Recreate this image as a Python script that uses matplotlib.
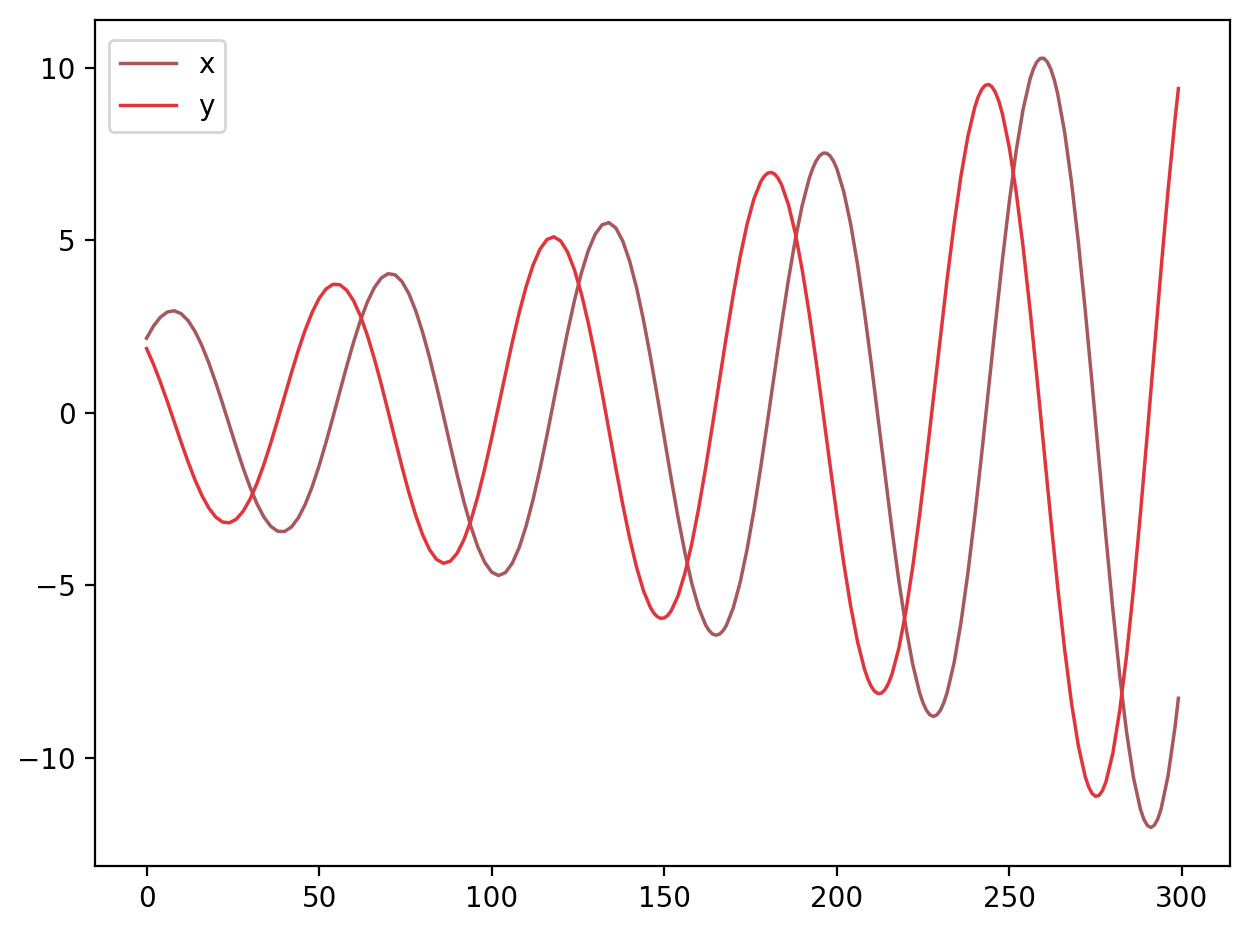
import matplotlib
matplotlib.use("Agg")
import matplotlib.pyplot as plt

# sample positions (every 2nd step + last point)
t = list(range(0, 300, 2)) + [299]

x_vals = [
    2.159, 2.511, 2.768, 2.918, 2.955, 2.873, 2.675, 2.365, 1.954, 1.456,
    0.889, 0.276, -0.361, -0.996, -1.604, -2.158, -2.639, -3.022, -3.292, -3.434,
    -3.441, -3.310, -3.045, -2.651, -2.142, -1.537, -0.859, -0.132, 0.615, 1.351,
    2.048, 2.678, 3.212, 3.626, 3.904, 4.030, 3.998, 3.804, 3.453, 2.956,
    2.331, 1.600, 0.789, -0.069, -0.942, -1.794, -2.592, -3.301, -3.892, -4.337,
    -4.617, -4.719, -4.632, -4.357, -3.901, -3.279, -2.515, -1.633, -0.668, 0.344,
    1.361, 2.345, 3.254, 4.050, 4.699, 5.172, 5.448, 5.510, 5.352, 4.975,
    4.390, 3.618, 2.685, 1.625, 0.479, -0.709, -1.893, -3.025, -4.057, -4.947,
    -5.655, -6.152, -6.411, -6.418, -6.165, -5.659, -4.918, -3.965, -2.832, -1.562,
    -0.205, 1.188, 2.561, 3.858, 5.026, 6.014, 6.783, 7.295, 7.522, 7.451,
    7.079, 6.417, 5.484, 4.310, 2.941, 1.425, -0.178, -1.806, -3.393, -4.876,
    -6.193, -7.287, -8.112, -8.625, -8.802, -8.628, -8.106, -7.247, -6.080, -4.644,
    -2.993, -1.189, 0.698, 2.595, 4.427, 6.115, 7.595, 8.797, 9.670, 10.170,
    10.272, 9.966, 9.252, 8.150, 6.700, 4.951, 2.969, 0.828, -1.390, -3.596,
    -5.700, -7.620, -9.271, -10.583, -11.494, -11.961, -11.959, -11.477, -10.522, -9.125,
    -8.274,
]

y_vals = [
    1.860, 1.410, 0.893, 0.330, -0.258, -0.847, -1.413, -1.935, -2.389, -2.756,
    -3.019, -3.167, -3.191, -3.085, -2.854, -2.504, -2.047, -1.498, -0.878, -0.210,
    0.479, 1.164, 1.815, 2.406, 2.912, 3.311, 3.586, 3.722, 3.711, 3.551,
    3.243, 2.801, 2.237, 1.571, 0.829, 0.039, -0.768, -1.561, -2.307, -2.975,
    -3.536, -3.968, -4.248, -4.363, -4.305, -4.072, -3.673, -3.117, -2.424, -1.620,
    -0.735, 0.196, 1.139, 2.055, 2.906, 3.658, 4.279, 4.739, 5.018, 5.100,
    4.979, 4.657, 4.141, 3.448, 2.602, 1.635, 0.583, -0.514, -1.612, -2.667,
    -3.636, -4.479, -5.159, -5.644, -5.912, -5.947, -5.746, -5.310, -4.650, -3.791,
    -2.762, -1.602, -0.354, 0.933, 2.208, 3.419, 4.519, 5.458, 6.197, 6.700,
    6.944, 6.917, 6.610, 6.031, 5.196, 4.137, 2.891, 1.504, 0.029, -1.477,
    -2.954, -4.342, -5.584, -6.625, -7.421, -7.933, -8.140, -8.022, -7.579, -6.822,
    -5.776, -4.479, -2.975, -1.321, 0.419, 2.177, 3.883, 5.467, 6.864, 8.010,
    8.857, 9.369, 9.513, 9.277, 8.664, 7.688, 6.388, 4.803, 2.993, 1.027,
    -1.020, -3.067, -5.032, -6.833, -8.395, -9.650, -10.546, -11.035, -11.089, -10.698,
    -9.868, -8.629, -7.017, -5.091, -2.920, -0.589, 1.812, 4.188, 6.443, 8.483,
    9.396,
]

# extra readings around the larger peaks / troughs
x_extra_t = [163, 165, 167, 193, 195, 197, 199, 225, 227, 229, 231,
             257, 259, 261, 263, 289, 291, 293]
x_extra_v = [-6.312, -6.447, -6.323, 7.073, 7.445, 7.524, 7.302,
             -8.409, -8.757, -8.759, -8.410, 9.969, 10.272, 10.171, 9.660,
             -11.785, -12.021, -11.779]

y_extra_t = [147, 149, 151, 179, 181, 183, 209, 211, 213, 215,
             241, 243, 245, 247, 273, 275, 277]
y_extra_v = [-5.806, -5.959, -5.876, 6.856, 6.966, 6.798,
             -7.715, -8.076, -8.123, -7.841, 9.158, 9.489, 9.444, 9.018,
             -10.843, -11.118, -10.949]

series_names = ["x", "y"]
series_colors = ["#a6585c", "#e2353b"]

xs = sorted(zip(t + x_extra_t, x_vals + x_extra_v))
ys = sorted(zip(t + y_extra_t, y_vals + y_extra_v))

fig = plt.figure(figsize=(6.28, 4.68), dpi=200)
ax = fig.add_axes([0.0756, 0.0748, 0.9037, 0.904])
ax.plot([p[0] for p in xs], [p[1] for p in xs], color=series_colors[0],
        label=series_names[0], lw=1.25)
ax.plot([p[0] for p in ys], [p[1] for p in ys], color=series_colors[1],
        label=series_names[1], lw=1.25)
ax.set_xticks([0, 50, 100, 150, 200, 250, 300])
ax.set_yticks([-10, -5, 0, 5, 10])
ax.legend(loc="upper left", bbox_to_anchor=(0, 0.993))
fig.savefig("out.png", dpi=200)
